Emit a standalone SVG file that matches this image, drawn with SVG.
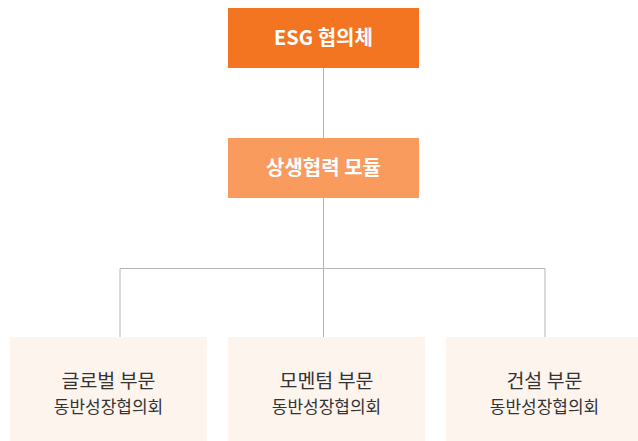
<svg xmlns="http://www.w3.org/2000/svg" width="638" height="441" viewBox="0 0 638 441">
<style>
.t{font-family:"Noto Sans CJK KR","Noto Sans",sans-serif;text-anchor:middle}
.w{fill:#fff;font-size:20px;font-weight:bold}
.h{fill:#333;font-size:19.5px}
.s{fill:#333;font-size:17px}
.ln{stroke:#b5b5b5;stroke-width:1;fill:none}
</style>
<rect width="638" height="441" fill="#fff"/>
<g id="connectors">
<path class="ln" d="M323.5 68V138M323.5 198V337M120 337V268.5H545V337"/>
</g>
<g id="esg">
<rect x="228" y="8" width="191" height="60" fill="#F47521"/>
<text class="t w" x="323.5" y="45">ESG 협의체</text>
</g>
<g id="module">
<rect x="228" y="138" width="191" height="60" fill="#F89B5C"/>
<text class="t w" x="323.5" y="175">상생협력 모듈</text>
</g>
<g id="global">
<rect x="10" y="337" width="197" height="104" fill="#FEF4EE"/>
<text class="t h" x="108.5" y="388">글로벌 부문</text>
<text class="t s" x="108.5" y="413">동반성장협의회</text>
</g>
<g id="momentum">
<rect x="228" y="337" width="197" height="104" fill="#FEF4EE"/>
<text class="t h" x="326.5" y="388">모멘텀 부문</text>
<text class="t s" x="326.5" y="413">동반성장협의회</text>
</g>
<g id="construction">
<rect x="446" y="337" width="197" height="104" fill="#FEF4EE"/>
<text class="t h" x="544.5" y="388">건설 부문</text>
<text class="t s" x="544.5" y="413">동반성장협의회</text>
</g>
</svg>
